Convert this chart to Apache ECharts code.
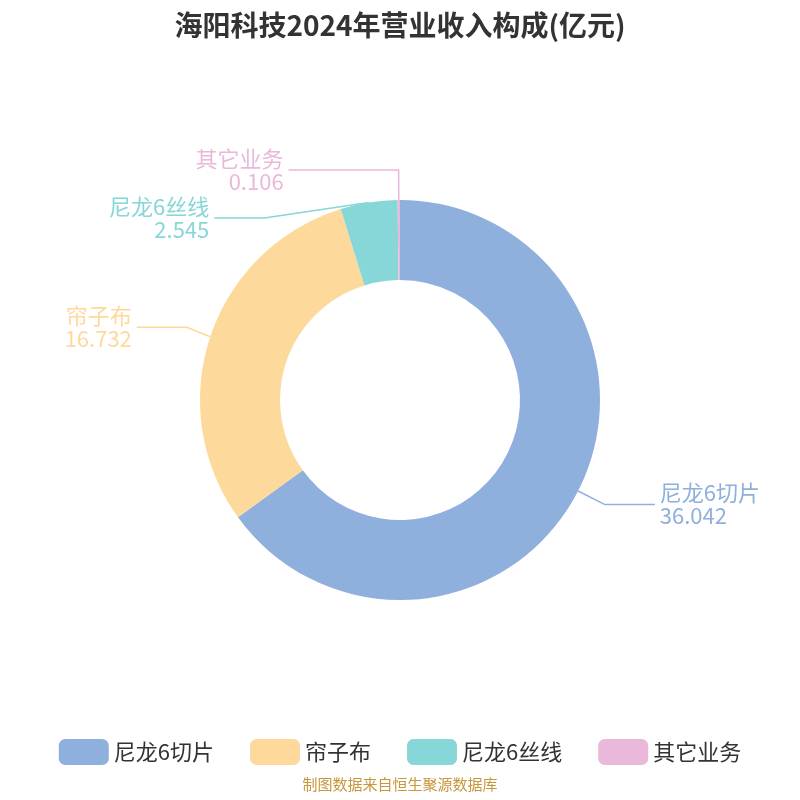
<!DOCTYPE html>
<html>
<head>
<meta charset="utf-8">
<script src="https://cdn.jsdelivr.net/npm/echarts@6/dist/echarts.min.js"></script>
<style>html,body{margin:0;padding:0;}#main{width:800px;height:800px;}</style>
</head>
<body>
<div id="main"></div>
<script>
// 营业收入构成数据
var names = ['尼龙6切片', '帘子布', '尼龙6丝线', '其它业务'];
var values = [36.042, 16.732, 2.545, 0.106];
var colors = ['#8fafdc', '#fed99c', '#87d6d8', '#e9b8da'];

var chart = echarts.init(document.getElementById('main'));
var data = names.map(function (n, i) {
  return {
    name: n, value: values[i],
    itemStyle: { color: colors[i] },
    label: { color: colors[i] },
    labelLine: { length2: i === 3 ? 110 : 50, lineStyle: { color: colors[i], width: 1.5 } }
  };
});

chart.setOption({
  title: {
    text: '海阳科技2024年营业收入构成(亿元)',
    left: 'center', top: 6,
    textStyle: { fontSize: 28, fontWeight: 'bold', color: '#333', fontFamily: 'Noto Sans CJK SC' }
  },
  legend: {
    bottom: 30, itemWidth: 50, itemHeight: 26, itemGap: 36,
    textStyle: { fontSize: 22, color: '#333', fontFamily: 'Noto Sans CJK SC' },
    data: names
  },
  graphic: [{
    type: 'text', left: 'center', bottom: 8,
    style: { text: '制图数据来自恒生聚源数据库', fill: '#c8963c', fontSize: 15, fontFamily: 'Noto Sans CJK SC' }
  }],
  series: [{
    type: 'pie',
    center: ['50%', '50%'],
    radius: ['30%', '50%'],
    startAngle: 90,
    data: data,
    label: {
      formatter: '{b}\n{c}',
      fontSize: 22, lineHeight: 23,
      fontFamily: 'Noto Sans CJK SC'
    },
    labelLine: { length: 30 }
  }]
});
</script>
</body>
</html>
